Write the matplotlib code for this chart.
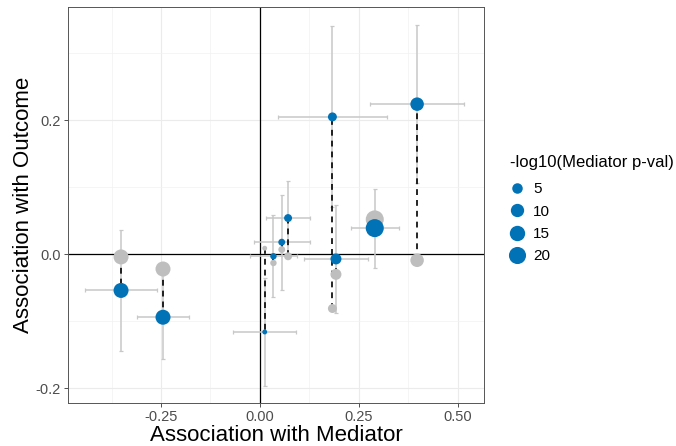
import matplotlib
matplotlib.use("Agg")
import matplotlib.pyplot as plt
from matplotlib.lines import Line2D
import numpy as np

plt.rcParams['font.family'] = ['Liberation Sans', 'DejaVu Sans']

# association with mediator (x) and with outcome (y)
med_est = [-0.351, -0.245, 0.012, 0.034, 0.055, 0.071, 0.183, 0.192, 0.290, 0.397]
med_err = [0.090, 0.065, 0.080, 0.060, 0.071, 0.056, 0.137, 0.082, 0.060, 0.119]
out_adj = [-0.054, -0.094, -0.116, -0.003, 0.018, 0.054, 0.205, -0.007, 0.039, 0.224]
out_err = [0.090, 0.063, 0.081, 0.061, 0.071, 0.055, 0.135, 0.080, 0.059, 0.118]
out_raw = [-0.004, -0.022, 0.009, -0.013, 0.007, -0.003, -0.081, -0.030, 0.052, -0.009]
med_logp = [14, 14, 1.0, 1.3, 1.5, 2.2, 3.1, 5.7, 23, 10.4]
legend_breaks = [5, 10, 15, 20]

blue = '#0072B5'
grey = '#BEBEBE'


def diam(v):
    # point diameter in px, area-like scaling
    return 4.9 + 2.8 * np.sqrt(np.maximum(np.asarray(v, dtype=float) - 1, 0))


def area(v):
    return (diam(v) * 0.72) ** 2


fig = plt.figure(figsize=(6.76, 4.46), dpi=100)
ax = fig.add_axes([68 / 676, 1 - 403 / 446, (484 - 68) / 676, (403 - 7) / 446])

ax.axhline(0, color='black', lw=0.9, zorder=1.5)
ax.axvline(0, color='black', lw=0.9, zorder=1.5)

ax.errorbar(med_est, out_adj, xerr=med_err, yerr=out_err, fmt='none',
            ecolor='#C8C8C8', elinewidth=1.1, capsize=1.5, capthick=0.9, zorder=2)

for x, y0, y1 in zip(med_est, out_raw, out_adj):
    ax.plot([x, x], [y0, y1], color='black', lw=1.2, ls=(0, (3.5, 3)), zorder=2.5)

ax.scatter(med_est, out_raw, s=area(med_logp), color=grey, linewidths=0, zorder=3)
ax.scatter(med_est, out_adj, s=area(med_logp), color=blue, linewidths=0, zorder=4)

ax.set_xlim(-0.485, 0.566)
ax.set_ylim(-0.222, 0.369)
ax.set_xticks([-0.25, 0.0, 0.25, 0.5])
ax.set_xticklabels(['-0.25', '0.00', '0.25', '0.50'])
ax.set_yticks([-0.2, 0.0, 0.2])
ax.set_yticklabels(['-0.2', '0.0', '0.2'])
ax.set_xticks([-0.375, -0.125, 0.125, 0.375], minor=True)
ax.set_yticks([-0.1, 0.1, 0.3], minor=True)
ax.grid(True, which='major', color='#EBEBEB', lw=0.8)
ax.grid(True, which='minor', color='#F2F2F2', lw=0.5)
ax.set_axisbelow(True)
ax.tick_params(which='major', length=3, width=0.6, color='#333333',
               labelsize=10.5, labelcolor='#4D4D4D', pad=2)
ax.tick_params(which='minor', length=0)
for sp in ax.spines.values():
    sp.set_color('#555555')
    sp.set_linewidth(0.7)

ax.set_xlabel('Association with Mediator', fontsize=16, labelpad=1)
ax.set_ylabel('Association with Outcome', fontsize=16, labelpad=1)

handles = [Line2D([], [], ls='none', marker='o', color=blue, markeredgewidth=0,
                  markersize=diam(b) * 0.72) for b in legend_breaks]
leg = fig.legend(handles, [str(b) for b in legend_breaks],
                 title='-log10(Mediator p-val)', loc='upper left',
                 bbox_to_anchor=(502 / 676, 1 - 147 / 446), frameon=False,
                 fontsize=11, title_fontsize=12, labelspacing=0.55,
                 handletextpad=0.55, borderpad=0, handlelength=1.0)
leg._legend_box.align = 'left'
leg._legend_box.sep = 9

fig.savefig('out.png', dpi=100)
